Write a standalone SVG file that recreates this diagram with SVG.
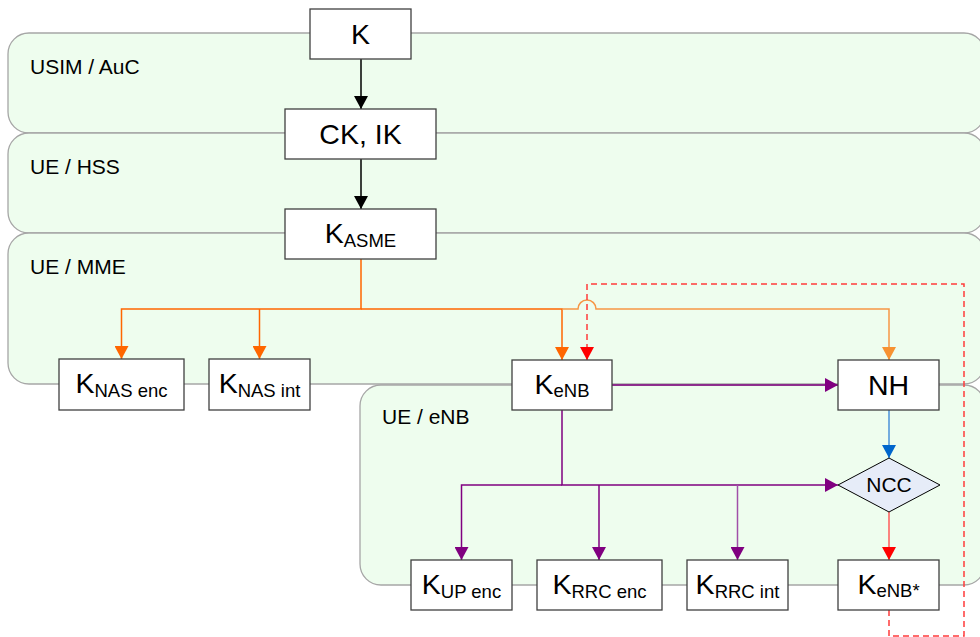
<svg xmlns="http://www.w3.org/2000/svg" width="980" height="637" viewBox="0 0 980 637">
<style>
.region{fill:#eefdee;stroke:#a6a6a6;stroke-width:1.3}
.rlabel{font-family:"Liberation Sans",Arial,sans-serif;font-size:21px;fill:#000}
.box{fill:#fff;stroke:#404040;stroke-width:1.3}
.t{font-family:"Liberation Sans",Arial,sans-serif;font-size:28.5px;fill:#000;text-anchor:middle}
.sub{font-size:18.5px}
.c{fill:none;stroke-width:1.5}
</style>
<defs>
<marker id="ab" viewBox="0 0 13 14" refX="13" refY="7" markerWidth="13" markerHeight="14" markerUnits="userSpaceOnUse" orient="auto"><path d="M0,0L13,7L0,14z" fill="#000"/></marker>
<marker id="ao" viewBox="0 0 13 14" refX="13" refY="7" markerWidth="13" markerHeight="14" markerUnits="userSpaceOnUse" orient="auto"><path d="M0,0L13,7L0,14z" fill="#ff6600"/></marker>
<marker id="al" viewBox="0 0 13 14" refX="13" refY="7" markerWidth="13" markerHeight="14" markerUnits="userSpaceOnUse" orient="auto"><path d="M0,0L13,7L0,14z" fill="#f79232"/></marker>
<marker id="ap" viewBox="0 0 13 14" refX="13" refY="7" markerWidth="13" markerHeight="14" markerUnits="userSpaceOnUse" orient="auto"><path d="M0,0L13,7L0,14z" fill="#800080"/></marker>
<marker id="abl" viewBox="0 0 13 14" refX="13" refY="7" markerWidth="13" markerHeight="14" markerUnits="userSpaceOnUse" orient="auto"><path d="M0,0L13,7L0,14z" fill="#0066cc"/></marker>
<marker id="ar" viewBox="0 0 13 14" refX="13" refY="7" markerWidth="13" markerHeight="14" markerUnits="userSpaceOnUse" orient="auto"><path d="M0,0L13,7L0,14z" fill="#ff0000"/></marker>
</defs>
<g id="regions">
<g id="usim-auc"><rect class="region" x="8" y="33" width="977" height="100" rx="21"/><text class="rlabel" x="30" y="74">USIM / AuC</text></g>
<g id="ue-hss"><rect class="region" x="8" y="133" width="977" height="100" rx="21"/><text class="rlabel" x="30" y="174">UE / HSS</text></g>
<g id="ue-mme"><rect class="region" x="8" y="233" width="977" height="151" rx="21"/><text class="rlabel" x="30" y="274">UE / MME</text></g>
<g id="ue-enb"><rect class="region" x="360" y="385" width="625" height="200" rx="21"/><text class="rlabel" x="382" y="424">UE / eNB</text></g>
</g>
<g id="connectors">
<path class="c" stroke="#000" d="M361,59V109" marker-end="url(#ab)"/>
<path class="c" stroke="#000" d="M361,159V209" marker-end="url(#ab)"/>
<path class="c" stroke="#ff6600" d="M361,259V309H121.5V359" marker-end="url(#ao)"/>
<path class="c" stroke="#ff6600" d="M259.5,309V359" marker-end="url(#ao)"/>
<path class="c" stroke="#ff6600" d="M361,309H562V360" marker-end="url(#ao)"/>
<path class="c" stroke="#f79646" d="M562,309H578A9,9 0 0 1 596,309H889V360" marker-end="url(#al)"/>
<path class="c" stroke="#800080" stroke-width="2" d="M612,385H838" marker-end="url(#ap)"/>
<path class="c" stroke="#800080" stroke-width="2" d="M562,410V485H838" marker-end="url(#ap)"/>
<path class="c" stroke="#800080" d="M562,485H461.5V560" marker-end="url(#ap)"/>
<path class="c" stroke="#800080" d="M599,485V560" marker-end="url(#ap)"/>
<path class="c" stroke="#a050a8" d="M737.5,485V560" marker-end="url(#ap)"/>
<path class="c" stroke="#4a90d9" d="M889,410V458" marker-end="url(#abl)"/>
<path class="c" stroke="#ff5a5a" d="M889,512V560" marker-end="url(#ar)"/>
<path class="c" stroke="#ff3b3b" stroke-dasharray="6,4" d="M889,610V636H964V284H587V360" marker-end="url(#ar)"/>
</g>
<g id="K"><rect class="box" x="310" y="9" width="101" height="50"/><text class="t" x="360.5" y="44">K</text></g>
<g id="CKIK"><rect class="box" x="285" y="109" width="151" height="50"/><text class="t" x="360.5" y="144">CK, IK</text></g>
<g id="KASME"><rect class="box" x="285" y="209" width="151" height="50"/><text class="t" x="360.5" y="243">K<tspan class="sub" dy="4">ASME</tspan></text></g>
<g id="KNASenc"><rect class="box" x="59" y="359" width="125" height="51"/><text class="t" x="121.5" y="393">K<tspan class="sub" dy="4">NAS enc</tspan></text></g>
<g id="KNASint"><rect class="box" x="209" y="359" width="101" height="51"/><text class="t" x="259.5" y="393">K<tspan class="sub" dy="4">NAS int</tspan></text></g>
<g id="KeNB"><rect class="box" x="512" y="360" width="100" height="50"/><text class="t" x="562" y="394">K<tspan class="sub" dy="3">eNB</tspan></text></g>
<g id="NH"><rect class="box" x="838" y="360" width="101" height="50"/><text class="t" x="888.5" y="395">NH</text></g>
<g id="NCC"><path d="M838,485L889,458L940,485L889,512z" fill="#e6ecf8" stroke="#000" stroke-width="1"/><text x="889" y="492" font-family="Liberation Sans,Arial,sans-serif" font-size="21" text-anchor="middle">NCC</text></g>
<g id="KUPenc"><rect class="box" x="411" y="560" width="101" height="50"/><text class="t" x="461.5" y="594">K<tspan class="sub" dy="4">UP enc</tspan></text></g>
<g id="KRRCenc"><rect class="box" x="537" y="560" width="125" height="50"/><text class="t" x="599.5" y="594">K<tspan class="sub" dy="4">RRC enc</tspan></text></g>
<g id="KRRCint"><rect class="box" x="687" y="560" width="101" height="50"/><text class="t" x="737.5" y="594">K<tspan class="sub" dy="4">RRC int</tspan></text></g>
<g id="KeNBstar"><rect class="box" x="838" y="560" width="101" height="50"/><text class="t" x="888.5" y="594">K<tspan class="sub" dy="3">eNB*</tspan></text></g>
</svg>
